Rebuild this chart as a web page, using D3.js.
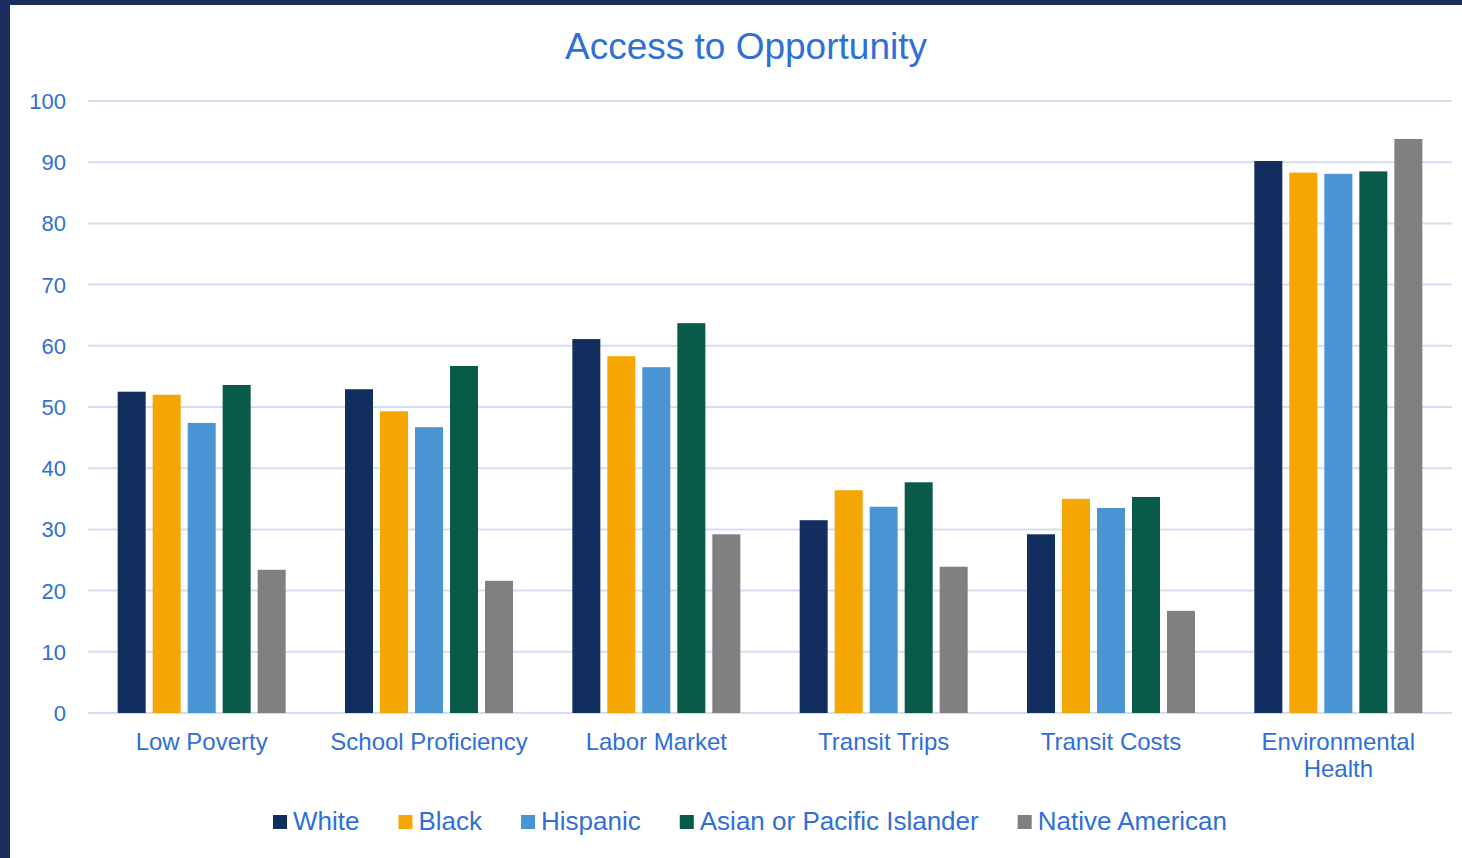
<!DOCTYPE html>
<html>
<head>
<meta charset="utf-8">
<script src="https://cdn.jsdelivr.net/npm/d3@7"></script>
<style>
body { margin: 0; background: #fff; }
text { font-family: "Liberation Sans", Arial, sans-serif; fill: #2f6fd6; }
</style>
</head>
<body>
<div id="chart"></div>
<script>
var categories = ["Low Poverty", "School Proficiency", "Labor Market", "Transit Trips", "Transit Costs", "Environmental Health"];
var seriesNames = ["White", "Black", "Hispanic", "Asian or Pacific Islander", "Native American"];
var seriesColors = ["#112e5f", "#f5a602", "#4a94d4", "#0a5a4a", "#808080"];
var white    = [52.5, 52.9, 61.1, 31.5, 29.2, 90.2];
var black    = [52.0, 49.3, 58.3, 36.4, 35.0, 88.3];
var hispanic = [47.4, 46.7, 56.5, 33.7, 33.5, 88.1];
var asian    = [53.6, 56.7, 63.7, 37.7, 35.3, 88.5];
var native   = [23.4, 21.6, 29.2, 23.9, 16.7, 93.8];
var yTicks = [0, 10, 20, 30, 40, 50, 60, 70, 80, 90, 100];

var values = [white, black, hispanic, asian, native];

var W = 1462, H = 858;
var svg = d3.select("#chart").append("svg")
    .attr("width", W)
    .attr("height", H);

// frame
svg.append("rect").attr("x", 0).attr("y", 0).attr("width", W).attr("height", H).attr("fill", "#1c2d5f");
svg.append("rect").attr("x", 10).attr("y", 5).attr("width", W - 10).attr("height", H - 5).attr("fill", "#fff");

// plot box (window.top is reserved, so use other names)
var plotLeft = 88, plotRight = 1452, plotTop = 101, plotBottom = 713;

var y = d3.scaleLinear().domain([0, 100]).range([plotBottom, plotTop]);
var x0 = d3.scaleBand().domain(categories).range([plotLeft, plotRight]).padding(0);
var x1 = d3.scaleBand().domain(seriesNames).range([0, 168]).paddingInner(0.2).paddingOuter(0);
var off = (x0.bandwidth() - 168) / 2;

// gridlines
svg.append("g").selectAll("line")
    .data(yTicks)
    .enter().append("line")
    .attr("x1", plotLeft).attr("x2", plotRight)
    .attr("y1", function(d) { return y(d); })
    .attr("y2", function(d) { return y(d); })
    .attr("stroke", "#d3def3")
    .attr("stroke-width", 2);

// y tick labels
svg.append("g").selectAll("text")
    .data(yTicks)
    .enter().append("text")
    .attr("x", 66)
    .attr("y", function(d) { return y(d); })
    .attr("dy", "0.36em")
    .attr("text-anchor", "end")
    .style("font-size", "22px")
    .text(function(d) { return d; });

// bars
seriesNames.forEach(function(s, si) {
    svg.append("g").selectAll("rect")
        .data(values[si])
        .enter().append("rect")
        .attr("x", function(d, i) { return x0(categories[i]) + off + x1(s); })
        .attr("y", function(d) { return y(d); })
        .attr("width", x1.bandwidth())
        .attr("height", function(d) { return plotBottom - y(d); })
        .attr("fill", seriesColors[si]);
});

// category labels
var catLabels = {"Environmental Health": ["Environmental", "Health"]};
categories.forEach(function(c) {
    var lines = catLabels[c] || [c];
    var t = svg.append("text")
        .attr("x", x0(c) + x0.bandwidth() / 2)
        .attr("y", 750)
        .attr("text-anchor", "middle")
        .style("font-size", "24px");
    lines.forEach(function(l, i) {
        t.append("tspan")
            .attr("x", x0(c) + x0.bandwidth() / 2)
            .attr("dy", i === 0 ? 0 : 27)
            .text(l);
    });
});

// title
svg.append("text")
    .attr("x", 746)
    .attr("y", 59)
    .attr("text-anchor", "middle")
    .style("font-size", "37px")
    .text("Access to Opportunity");

// legend
var gap = 39;
var legend = svg.append("g");
var lx = 0;
seriesNames.forEach(function(s, i) {
    var g = legend.append("g").attr("transform", "translate(" + lx + ",0)");
    g.append("rect").attr("x", 0).attr("y", -15).attr("width", 14).attr("height", 14).attr("fill", seriesColors[i]);
    var t = g.append("text").attr("x", 20).attr("y", 0).style("font-size", "26px").text(s);
    lx += 20 + t.node().getComputedTextLength() + gap;
});
var legendW = lx - gap;
legend.attr("transform", "translate(" + (750 - legendW / 2) + ",830)");
</script>
</body>
</html>
